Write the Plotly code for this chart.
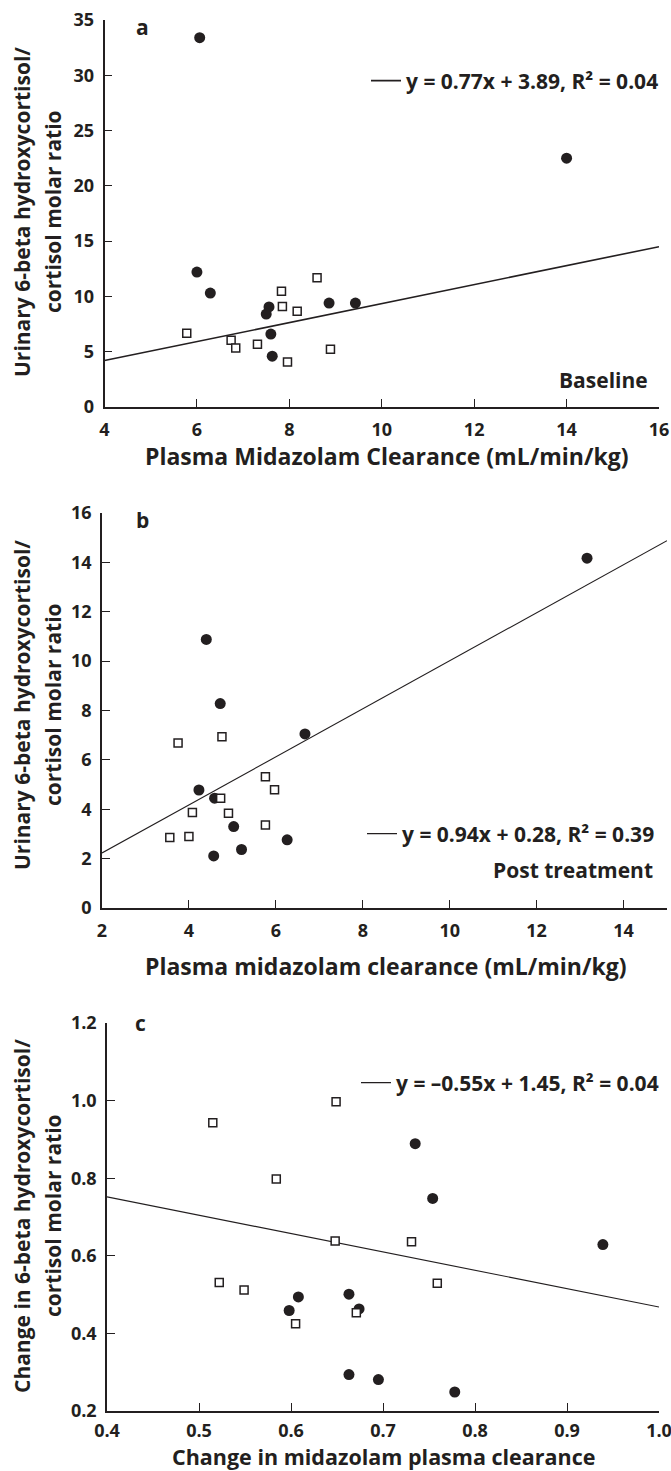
import plotly.graph_objects as go

W, H = 671, 1471
INK = "#231f20"
FONT = "Open Sans"

# ---------------- Data ----------------
# Panel a : Baseline
a_circ_x = [6.06, 14.0, 6.0, 6.29, 7.56, 7.5, 7.6, 7.63, 8.86, 9.43]
a_circ_y = [33.4, 22.5, 12.2, 10.3, 9.05, 8.4, 6.6, 4.6, 9.4, 9.4]
a_sq_x = [5.78, 6.74, 6.84, 7.31, 7.83, 7.85, 8.17, 8.6, 7.96, 8.89]
a_sq_y = [6.67, 6.03, 5.34, 5.67, 10.47, 9.08, 8.66, 11.7, 4.07, 5.22]
a_fit_x = [4, 16]
a_fit_y = [4.2, 14.5]
a_label = "y = 0.77x + 3.89, R\u00b2 = 0.04"

# Panel b : Post treatment
b_circ_x = [13.16, 4.4, 4.72, 6.67, 4.23, 4.59, 5.03, 5.21, 4.57, 6.26]
b_circ_y = [14.17, 10.88, 8.28, 7.05, 4.78, 4.45, 3.30, 2.37, 2.11, 2.76]
b_sq_x = [3.75, 4.76, 5.76, 5.97, 4.73, 4.08, 4.91, 5.76, 3.56, 4.0]
b_sq_y = [6.68, 6.94, 5.32, 4.79, 4.45, 3.87, 3.84, 3.36, 2.86, 2.90]
b_fit_x = [2, 15]
b_fit_y = [2.23, 14.88]
b_label = "y = 0.94x + 0.28, R\u00b2 = 0.39"

# Panel c : Change
c_circ_x = [0.735, 0.754, 0.939, 0.608, 0.598, 0.663, 0.674, 0.663, 0.695, 0.778]
c_circ_y = [0.889, 0.748, 0.629, 0.494, 0.459, 0.501, 0.463, 0.294, 0.281, 0.249]
c_sq_x = [0.515, 0.649, 0.584, 0.648, 0.731, 0.522, 0.549, 0.759, 0.671, 0.605]
c_sq_y = [0.943, 0.997, 0.798, 0.638, 0.636, 0.531, 0.512, 0.529, 0.453, 0.425]
c_fit_x = [0.4, 1.0]
c_fit_y = [0.752, 0.468]
c_label = "y = \u20130.55x + 1.45, R\u00b2 = 0.04"

# Tick values
a_xticks = [4, 6, 8, 10, 12, 14, 16]
a_yticks = [0, 5, 10, 15, 20, 25, 30, 35]
b_xticks = [2, 4, 6, 8, 10, 12, 14]
b_yticks = [0, 2, 4, 6, 8, 10, 12, 14, 16]
c_xticks = [0.4, 0.5, 0.6, 0.7, 0.8, 0.9, 1.0]
c_yticks = [0.2, 0.4, 0.6, 0.8, 1.0, 1.2]


def px(x):
    return x / W


def py(y):
    return 1 - y / H


fig = go.Figure()

panels = [
    dict(sfx="", circ=(a_circ_x, a_circ_y), sq=(a_sq_x, a_sq_y),
         fit=(a_fit_x, a_fit_y), label=a_label, legend="legend", lw=1.6),
    dict(sfx="2", circ=(b_circ_x, b_circ_y), sq=(b_sq_x, b_sq_y),
         fit=(b_fit_x, b_fit_y), label=b_label, legend="legend2", lw=1.1),
    dict(sfx="3", circ=(c_circ_x, c_circ_y), sq=(c_sq_x, c_sq_y),
         fit=(c_fit_x, c_fit_y), label=c_label, legend="legend3", lw=1.1),
]

for p in panels:
    xa, ya = "x" + p["sfx"], "y" + p["sfx"]
    fig.add_trace(go.Scatter(
        x=p["fit"][0], y=p["fit"][1], mode="lines", xaxis=xa, yaxis=ya,
        line=dict(color=INK, width=p["lw"]), name=p["label"],
        showlegend=True, legend=p["legend"], hoverinfo="skip"))
    fig.add_trace(go.Scatter(
        x=p["circ"][0], y=p["circ"][1], mode="markers", xaxis=xa, yaxis=ya,
        marker=dict(symbol="circle", size=11, color=INK, line=dict(width=0)),
        showlegend=False))
    fig.add_trace(go.Scatter(
        x=p["sq"][0], y=p["sq"][1], mode="markers", xaxis=xa, yaxis=ya,
        marker=dict(symbol="square", size=8, color="white",
                    line=dict(color=INK, width=1.5)),
        showlegend=False))

tickfont = dict(family=FONT, size=18, color=INK, weight="bold")
common = dict(showline=True, linecolor=INK, linewidth=1.5, ticks="inside",
              ticklen=8, tickwidth=1, tickcolor=INK, showgrid=False,
              zeroline=False, tickfont=tickfont, mirror=False, fixedrange=True,
              automargin=False, ticklabeloverflow="allow")

fig.update_layout(
    width=W, height=H, margin=dict(l=0, r=0, t=0, b=0, autoexpand=False),
    plot_bgcolor="white", paper_bgcolor="white",
    xaxis=dict(domain=[px(104.5), px(659)], range=[4, 16], tickvals=a_xticks,
               anchor="y", ticklabelstandoff=6, **common),
    yaxis=dict(domain=[py(407), py(20)], range=[0, 35], tickvals=a_yticks,
               anchor="x", ticklabelstandoff=5, **common),
    xaxis2=dict(domain=[px(102), px(667)], range=[2, 15], tickvals=b_xticks,
                anchor="y2", ticklabelstandoff=6, **common),
    yaxis2=dict(domain=[py(908), py(513)], range=[0, 16], tickvals=b_yticks,
                anchor="x2", ticklabelstandoff=5, **common),
    xaxis3=dict(domain=[px(107), px(659)], range=[0.4, 1.0], tickvals=c_xticks,
                tickformat=".1f", anchor="y3", ticklabelstandoff=3, **common),
    yaxis3=dict(domain=[py(1411), py(1023)], range=[0.2, 1.2], tickvals=c_yticks,
                tickformat=".1f", anchor="x3", ticklabelstandoff=5, **common),
)

legfont = dict(family=FONT, size=21, color=INK, weight="bold")
for name, xr, yc in [("legend", 664, 81), ("legend2", 660, 834), ("legend3", 664, 1083)]:
    fig.update_layout({name: dict(x=px(xr), y=py(yc), xanchor="right", yanchor="middle",
                                  bgcolor="rgba(0,0,0,0)", borderwidth=0, font=legfont,
                                  itemclick=False, itemdoubleclick=False)})

annfont = dict(family=FONT, size=21, color=INK, weight="bold")
ann = []
# panel letters
for t, x, y in [("a", 142, 27), ("b", 142, 520), ("c", 140, 1023)]:
    ann.append(dict(text=t, x=px(x), y=py(y), xref="paper", yref="paper",
                    showarrow=False, font=annfont, xanchor="center", yanchor="middle"))
# condition labels
for t, x, y in [("Baseline", 650, 380), ("Post treatment", 655, 870)]:
    ann.append(dict(text=t, x=px(x), y=py(y), xref="paper", yref="paper",
                    showarrow=False, font=annfont, xanchor="right", yanchor="middle"))
# x titles
for t, x, y, s in [("Plasma Midazolam Clearance (mL/min/kg)", 386, 456, 23),
                   ("Plasma midazolam clearance (mL/min/kg)", 386, 966, 23),
                   ("Change in midazolam plasma clearance", 383, 1456, 21.5)]:
    ann.append(dict(text=t, x=px(x), y=py(y), xref="paper", yref="paper",
                    showarrow=False, xanchor="center", yanchor="middle",
                    font=dict(family=FONT, size=s, color=INK, weight="bold")))
# y titles (two lines each)
ytfont = dict(family=FONT, size=21, color=INK, weight="bold")
for l1, l2, yc in [("Urinary 6-beta hydroxycortisol/", "cortisol molar ratio", 212),
                   ("Urinary 6-beta hydroxycortisol/", "cortisol molar ratio", 705),
                   ("Change in 6-beta hydroxycortisol/", "cortisol molar ratio", 1216)]:
    ann.append(dict(text=l1, x=px(22), y=py(yc), xref="paper", yref="paper",
                    showarrow=False, font=ytfont, textangle=-90,
                    xanchor="center", yanchor="middle"))
    ann.append(dict(text=l2, x=px(53), y=py(yc), xref="paper", yref="paper",
                    showarrow=False, font=ytfont, textangle=-90,
                    xanchor="center", yanchor="middle"))
fig.update_layout(annotations=ann)

fig.write_html("out.html", config={"displayModeBar": False},
               post_script="document.body.style.margin='0';document.body.style.overflow='hidden';")
